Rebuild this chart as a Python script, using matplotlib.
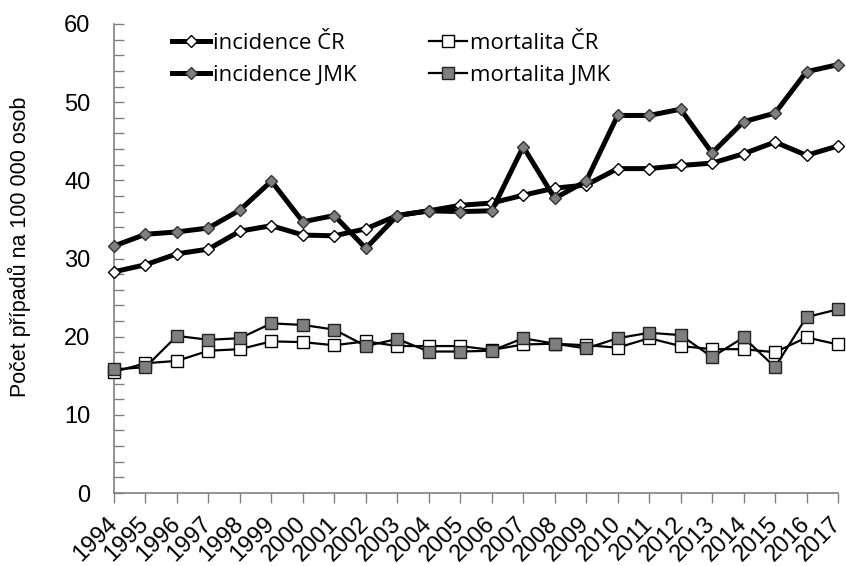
import numpy as np
import matplotlib.pyplot as plt
from matplotlib.ticker import MultipleLocator

# years on the x axis
years = list(range(1994, 2018))

# values per 100 000 inhabitants
incidence_cr = [28.3, 29.2, 30.6, 31.2, 33.5, 34.2, 33.0, 32.9, 33.8, 35.5, 36.1, 36.8,
                37.1, 38.1, 39.0, 39.4, 41.5, 41.5, 41.9, 42.2, 43.4, 44.9, 43.2, 44.4]
incidence_jmk = [31.6, 33.1, 33.4, 33.9, 36.2, 39.9, 34.7, 35.5, 31.3, 35.5, 36.1, 36.0,
                 36.1, 44.3, 37.7, 39.9, 48.3, 48.3, 49.1, 43.5, 47.5, 48.6, 53.9, 54.8]
mortalita_cr = [15.5, 16.6, 16.9, 18.2, 18.4, 19.4, 19.3, 18.9, 19.4, 18.8, 18.8, 18.8,
                18.3, 19.0, 19.1, 18.9, 18.6, 19.8, 18.8, 18.4, 18.4, 18.0, 19.9, 19.0]
mortalita_jmk = [15.8, 16.1, 20.1, 19.6, 19.8, 21.7, 21.5, 20.9, 18.8, 19.7, 18.1, 18.1,
                 18.2, 19.8, 19.1, 18.5, 19.8, 20.5, 20.2, 17.4, 19.9, 16.1, 22.5, 23.5]

plt.rcParams['font.family'] = ['Liberation Sans', 'DejaVu Sans']

fig = plt.figure(figsize=(8.46, 5.66), dpi=100)
ax = fig.add_axes([114 / 846, 1 - 493 / 566, (838 - 114) / 846, (493 - 24) / 566])

gray = '#7f7f7f'
ax.plot(years, incidence_cr, color='black', lw=3.6, marker='D', ms=6.2,
        mfc='white', mec='black', mew=1.0, label='incidence ČR', zorder=4)
ax.plot(years, mortalita_cr, color='black', lw=1.6, marker='s', ms=8,
        mfc='white', mec='black', mew=1.0, label='mortalita ČR', zorder=3)
ax.plot(years, incidence_jmk, color='black', lw=3.6, marker='D', ms=6.2,
        mfc=gray, mec='#333333', mew=1.0, label='incidence JMK', zorder=4)
ax.plot(years, mortalita_jmk, color='black', lw=1.6, marker='s', ms=8,
        mfc=gray, mec='#222222', mew=1.0, label='mortalita JMK', zorder=3)

ax.set_xlim(1994, 2017)
ax.set_ylim(0, 60)
ax.set_xticks(years)
ax.set_xticklabels([str(y) for y in years], rotation=45, ha='right', va='center',
                   rotation_mode='anchor', fontsize=17)
ax.yaxis.set_major_locator(MultipleLocator(10))
ax.yaxis.set_minor_locator(MultipleLocator(2))
ax.tick_params(axis='y', which='both', direction='in', length=7, width=1,
               color='#808080')
ax.tick_params(axis='y', which='major', labelsize=17, pad=17)
ax.tick_params(axis='x', direction='out', length=7, width=1, color='#808080', pad=13)

for side in ['top', 'right']:
    ax.spines[side].set_visible(False)
for side in ['left', 'bottom']:
    ax.spines[side].set_color('#808080')
    ax.spines[side].set_linewidth(1.2)

ax.set_ylabel('Počet případů na 100 000 osob', fontsize=15.5)
ax.yaxis.set_label_coords(-(114 - 31) / 724, (493 - 247) / 469)

handles, labels = ax.get_legend_handles_labels()
order = [0, 2, 1, 3]
ax.legend([handles[i] for i in order], [labels[i] for i in order], ncol=2,
          frameon=False, loc='upper left', bbox_to_anchor=(0.058, 1.015),
          prop={'family': 'Open Sans', 'size': 16}, handlelength=1.75,
          handletextpad=0.1, columnspacing=3.25, labelspacing=0.52, borderpad=0.2)

for line in ax.lines:
    line.set_clip_on(False)

fig.savefig('out.png', dpi=100)
